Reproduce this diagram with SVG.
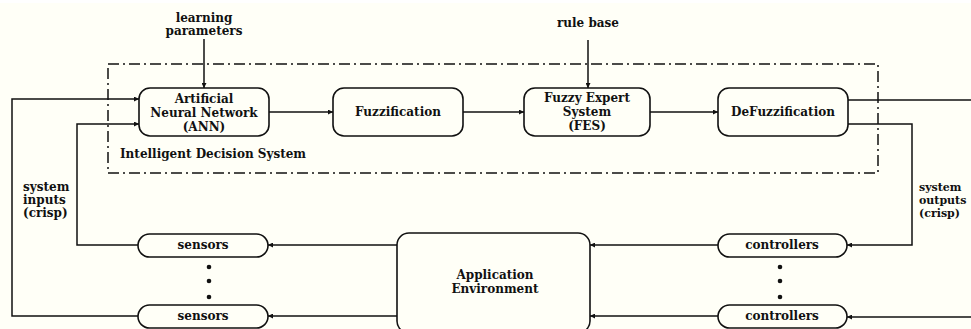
<svg xmlns="http://www.w3.org/2000/svg" width="971" height="329" viewBox="0 0 971 329">
<style>
.bg{fill:#fffff7}
.box{fill:none;stroke:#111;stroke-width:1.6}
.ln{fill:none;stroke:#111;stroke-width:1.5}
.arr{marker-end:url(#ah)}
.dash{fill:none;stroke:#111;stroke-width:1.5;stroke-dasharray:11 4 2 4}
text{font-family:"DejaVu Serif","Liberation Serif",serif;font-size:12px;font-weight:bold;fill:#111}
.c{text-anchor:middle}
.sm{font-size:11px}
.dot{fill:#111}
</style>
<defs>
<marker id="ah" viewBox="0 0 10 10" refX="10" refY="5" markerWidth="7" markerHeight="5" markerUnits="userSpaceOnUse" orient="auto">
<path d="M0,0 L10,5 L0,10 z" fill="#111"/>
</marker>
</defs>
<rect class="bg" x="0" y="3" width="971" height="326"/>

<g id="ids-boundary">
<rect class="dash" x="108" y="64" width="770" height="109"/>
<text x="120" y="158">Intelligent Decision System</text>
</g>

<g id="label-learning">
<text class="c" x="204" y="22">learning</text>
<text class="c" x="204" y="35">parameters</text>
</g>
<g id="label-rulebase">
<text class="c" x="588" y="27">rule base</text>
</g>

<g id="ann">
<rect class="box" x="139" y="88" width="130" height="48" rx="11"/>
<text class="c" x="204" y="103">Artificial</text>
<text class="c" x="204" y="117">Neural Network</text>
<text class="c" x="204" y="131">(ANN)</text>
</g>
<g id="fuzzification">
<rect class="box" x="333" y="88" width="130" height="48" rx="11"/>
<text class="c" x="398" y="116">Fuzzification</text>
</g>
<g id="fes">
<rect class="box" x="524" y="88" width="126" height="48" rx="11"/>
<text class="c" x="587" y="102">Fuzzy Expert</text>
<text class="c" x="587" y="116">System</text>
<text class="c" x="587" y="130">(FES)</text>
</g>
<g id="defuzzification">
<rect class="box" x="718" y="88" width="130" height="48" rx="11"/>
<text class="c" x="783" y="116">DeFuzzification</text>
</g>

<g id="sensors-1">
<rect class="box" x="138" y="234" width="130" height="23" rx="11.5"/>
<text class="c" x="203" y="249">sensors</text>
</g>
<g id="sensors-2">
<rect class="box" x="138" y="305" width="130" height="23" rx="11.5"/>
<text class="c" x="203" y="320">sensors</text>
</g>
<g id="sensor-dots">
<circle class="dot" cx="209" cy="267" r="2.3"/>
<circle class="dot" cx="209" cy="281" r="2.3"/>
<circle class="dot" cx="209" cy="297" r="2.3"/>
</g>

<g id="application-environment">
<rect class="box" x="397" y="233" width="193" height="100" rx="12"/>
<text class="c" x="495" y="279">Application</text>
<text class="c" x="495" y="293">Environment</text>
</g>

<g id="controllers-1">
<rect class="box" x="718" y="234" width="129" height="23" rx="11.5"/>
<text class="c" x="782" y="249">controllers</text>
</g>
<g id="controllers-2">
<rect class="box" x="718" y="305" width="129" height="23" rx="11.5"/>
<text class="c" x="782" y="320">controllers</text>
</g>
<g id="controller-dots">
<circle class="dot" cx="780" cy="267" r="2.3"/>
<circle class="dot" cx="780" cy="281" r="2.3"/>
<circle class="dot" cx="780" cy="297" r="2.3"/>
</g>

<g id="label-inputs">
<text x="23" y="191">system</text>
<text x="23" y="204">inputs</text>
<text x="23" y="217">(crisp)</text>
</g>
<g id="label-outputs">
<text class="sm" x="919" y="191">system</text>
<text class="sm" x="919" y="204">outputs</text>
<text class="sm" x="919" y="217">(crisp)</text>
</g>

<g id="connectors">
<path class="ln arr" d="M204,39 L204,88"/>
<path class="ln arr" d="M588,40 L588,88"/>
<path class="ln arr" d="M269,112 L333,112"/>
<path class="ln arr" d="M463,112 L524,112"/>
<path class="ln arr" d="M650,112 L718,112"/>
<path class="ln arr" d="M138,316 L12,316 L12,99 L139,99"/>
<path class="ln arr" d="M138,245 L77,245 L77,124 L139,124"/>
<path class="ln arr" d="M397,245 L268,245"/>
<path class="ln arr" d="M397,316 L268,316"/>
<path class="ln arr" d="M718,245 L590,245"/>
<path class="ln arr" d="M718,316 L590,316"/>
<path class="ln" d="M848,100 L971,100"/>
<path class="ln arr" d="M848,124 L912,124 L912,245 L847,245"/>
<path class="ln arr" d="M971,317 L847,317"/>
</g>
</svg>
